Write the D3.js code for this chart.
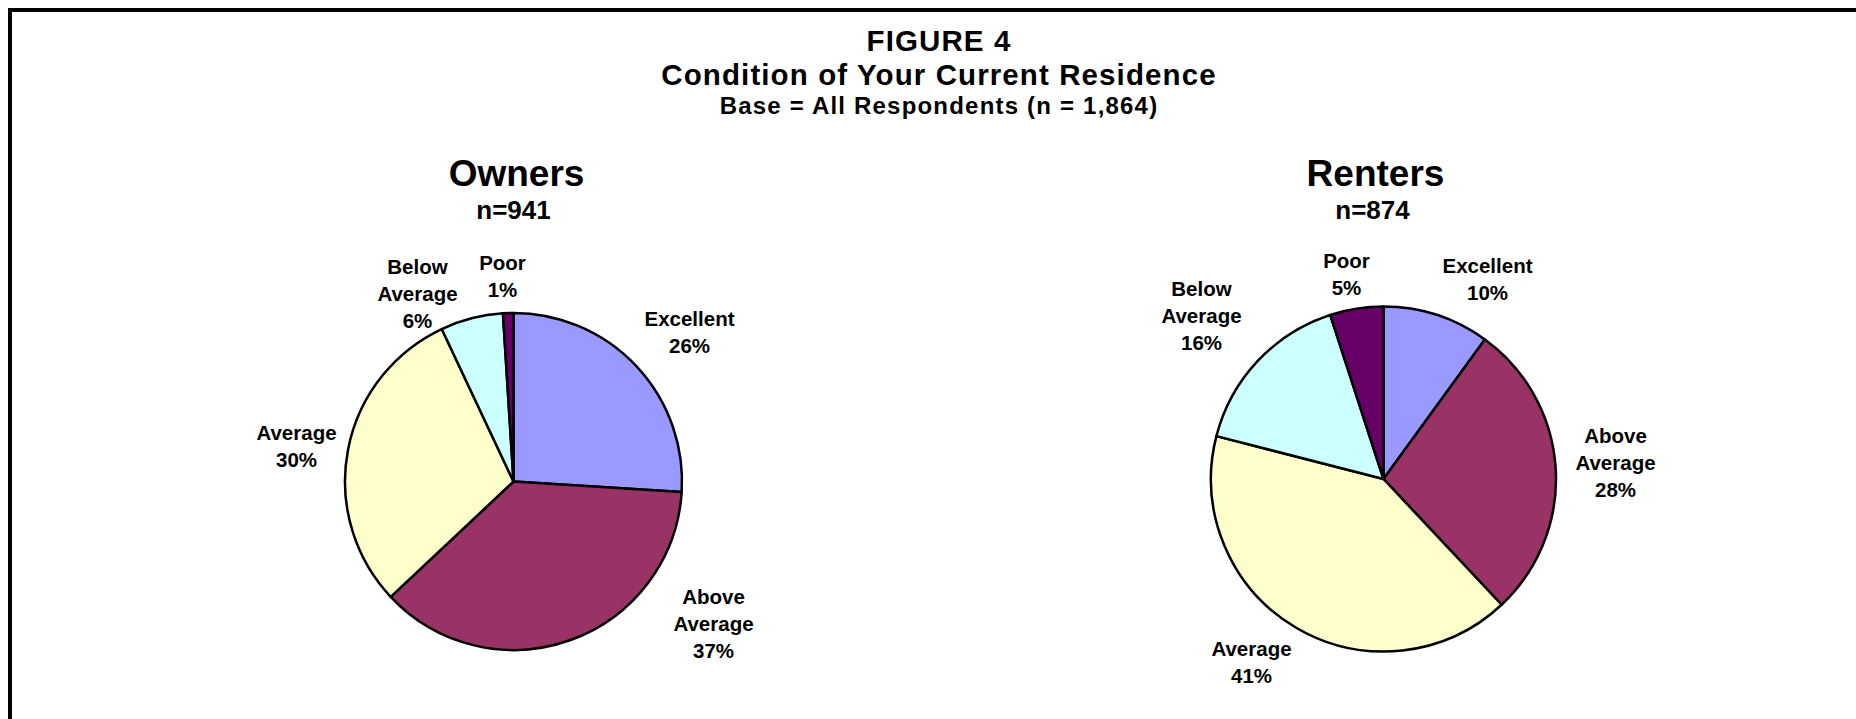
<!DOCTYPE html>
<html>
  <head>
    <title>Figure 4</title>
    <script src="https://d3js.org/d3.v7.min.js"></script>
    <style>
      body { margin: 0; background: #fff; }
      text { font-family: Arial, "Liberation Sans", sans-serif; font-weight: bold; fill: #000; }
    </style>
  </head>
  <body>
  </body>
  <script>

var thewidth = 1856;
var theheight = 719;

// the data
var categories = ["Excellent", "Above Average", "Average", "Below Average", "Poor"];
var ownerValues = [26, 37, 30, 6, 1];
var renterValues = [10, 28, 41, 16, 5];
var colors = ["#9999ff", "#993366", "#ffffcc", "#ccffff", "#660066"];

var titleLines = ["FIGURE 4", "Condition of Your Current Residence", "Base = All Respondents (n = 1,864)"];
var pieTitles = ["Owners", "Renters"];
var pieBases = ["n=941", "n=874"];

// where each pie sits and where its labels go (offsets from the pie centre)
var pies = [
    { cx: 513.5, cy: 481.5, r: 168.5, values: ownerValues, titleDx: 3, baseDx: 0,
      labelOffsets: [[176, -141], [200, 150], [-217, -27], [-96, -180], [-11, -197]] },
    { cx: 1383.5, cy: 479, r: 172.5, values: renterValues, titleDx: -8, baseDx: -11,
      labelOffsets: [[104, -192], [232, -8], [-132, 191], [-182, -155], [-37, -197]] }
];

var svg = d3.select("body").append("svg")
    .attr("width", thewidth)
    .attr("height", theheight);

svg.append("rect")
    .attr("width", thewidth)
    .attr("height", theheight)
    .attr("fill", "#fff");

// frame: only the left and top edges show
svg.append("path")
    .attr("d", "M 10 " + (theheight + 5) + " L 10 10 L " + (thewidth + 5) + " 10")
    .attr("fill", "none")
    .attr("stroke", "#000")
    .attr("stroke-width", 4);

var titleSizes = [29.5, 29.5, 24];
var titleSpacing = [1.1, 1.1, 1.2];
var titleY = [51, 84.5, 114];
titleLines.forEach(function(t, i) {
    svg.append("text")
        .attr("x", 939)
        .attr("y", titleY[i])
        .attr("text-anchor", "middle")
        .style("font-size", titleSizes[i] + "px")
        .style("letter-spacing", titleSpacing[i] + "px")
        .text(t);
});

var pie = d3.pie().sort(null).value(function(d) { return d; });

function labelLines(name, value) {
    var words = name.split(" ");
    words.push(value + "%");
    return words;
}

pies.forEach(function(p, k) {
    var g = svg.append("g")
        .attr("transform", "translate(" + p.cx + "," + p.cy + ")");

    var arc = d3.arc().innerRadius(0).outerRadius(p.r);

    g.selectAll("path")
        .data(pie(p.values))
        .enter()
        .append("path")
        .attr("d", arc)
        .attr("fill", function(d, i) { return colors[i]; })
        .attr("stroke", "#000")
        .attr("stroke-width", 2.5)
        .attr("stroke-linejoin", "round");

    g.append("text")
        .attr("x", p.titleDx)
        .attr("y", 186 - p.cy)
        .attr("text-anchor", "middle")
        .style("font-size", "37px")
        .text(pieTitles[k]);

    g.append("text")
        .attr("x", p.baseDx)
        .attr("y", 219 - p.cy)
        .attr("text-anchor", "middle")
        .style("font-size", "26px")
        .text(pieBases[k]);

    // data labels
    p.values.forEach(function(v, i) {
        var lines = labelLines(categories[i], v);
        var off = p.labelOffsets[i];
        var lh = 27;
        var top = off[1] - (lines.length - 1) * lh / 2 - 1;
        var t = g.append("text")
            .attr("text-anchor", "middle")
            .style("font-size", "20.5px");
        lines.forEach(function(l, j) {
            t.append("tspan")
                .attr("x", off[0])
                .attr("y", top + j * lh)
                .text(l);
        });
    });
});

  </script>
</html>
